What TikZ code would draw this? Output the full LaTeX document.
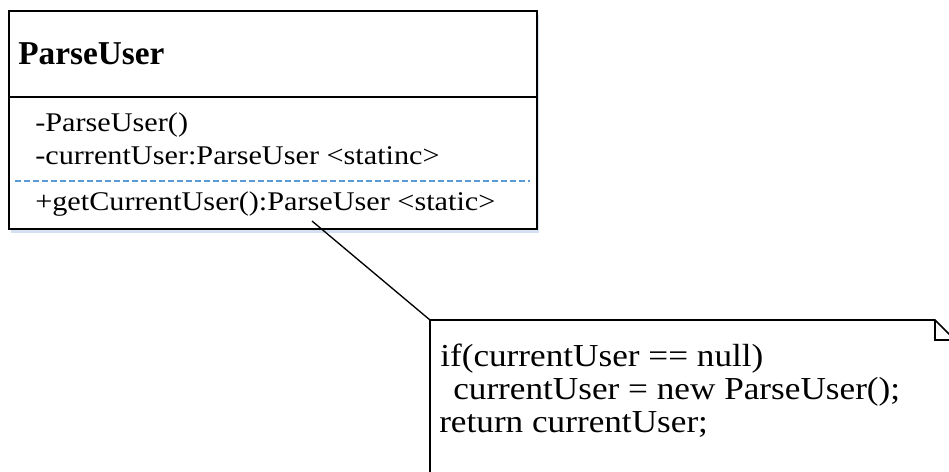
\documentclass[tikz,border=0pt]{standalone}
\usepackage{fontspec}
\setmainfont{Liberation Serif}
\newfontfamily\umlfont{Liberation Serif}[FakeStretch=1.12]
\newfontfamily\notefont{Liberation Serif}[FakeStretch=1.1]
\usetikzlibrary{shadows}
\definecolor{sepblue}{RGB}{91,155,213}
\definecolor{shadowblue}{RGB}{200,218,240}

\begin{document}
\begin{tikzpicture}[x=0.75pt,y=-0.75pt,
    umlline/.style={line width=1.2pt},
    softshadow/.style={drop shadow={shadow xshift=1.5pt,shadow yshift=-3pt,fill=shadowblue,opacity=0.8}},
    classbox/.style={draw,umlline,fill=white,softshadow,inner sep=0pt,anchor=north west,
        minimum width=396pt,minimum height=163.5pt},
    classname/.style={anchor=base west,inner sep=0pt,font=\bfseries\fontsize{25}{28}\selectfont},
    member/.style={anchor=base west,inner sep=0pt,font=\umlfont\fontsize{20.25}{24}\selectfont},
    notetext/.style={anchor=base west,inner sep=0pt,font=\notefont\fontsize{24}{25}\selectfont}]
\useasboundingbox (0,0) rectangle (949,471);

% class ParseUser
\node[classbox] (cls) at (8,10) {};
\node[classname] (title) at (18,64) {ParseUser};
\draw[umlline] (8,97) -- (536,97);
\node[member] (ctor) at (35,131) {-ParseUser()};
\node[member] (field) at (35,164) {-currentUser:ParseUser <statinc>};
\draw[sepblue,line width=1.1pt,dash pattern=on 4.5pt off 2.25pt] (15,181) -- (530,181);
\node[member] (getter) at (35,210) {+getCurrentUser():ParseUser <static>};

% note
\coordinate (noteNW) at (430,320);
\coordinate (link) at (312,221);
\draw[umlline,fill=white,softshadow] (430,490) -- (noteNW) -- (935,320) -- (955,340) -- (955,490);
\draw[umlline] (935,320) -- (935,340) -- (955,340);
\node[notetext] (ifline) at (440,366) {if(currentUser == null)};
\node[notetext] (newline) at (453,399) {currentUser = new ParseUser();};
\node[notetext] (retline) at (439,432) {return currentUser;};
\draw[line width=1pt] (link) -- (noteNW);
\end{tikzpicture}
\end{document}
